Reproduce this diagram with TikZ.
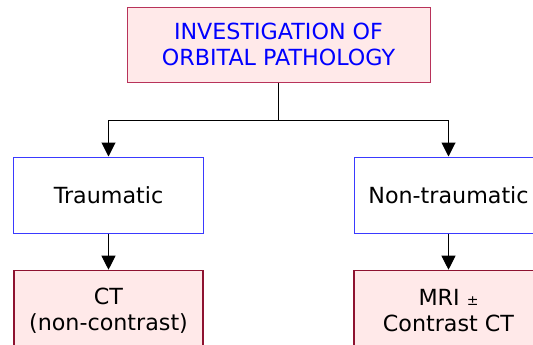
\documentclass[tikz,border=0pt]{standalone}
\usepackage{fontspec}
\setmainfont{DejaVu Sans}
\usetikzlibrary{arrows.meta,positioning}

\definecolor{boxpink}{HTML}{FFE9E9}
\definecolor{titlered}{HTML}{B8325A}
\definecolor{deepred}{HTML}{8E1230}
\definecolor{edgeblue}{HTML}{3A3AFF}

\begin{document}
\begin{tikzpicture}[x=1bp, y=-1bp, font=\fontsize{22.3}{26.5}\selectfont,
    headbox/.style={draw=titlered, fill=boxpink, line width=1bp, minimum width=303bp, minimum height=75bp, text=blue, align=center},
    casebox/.style={draw=edgeblue, fill=white, line width=1bp, minimum width=189bp, minimum height=76bp},
    scanbox/.style={draw=deepred, fill=boxpink, line width=1.6bp, minimum width=189bp, minimum height=80bp, align=center},
    flow/.style={draw=black, line width=1bp, -{Triangle[length=14bp,width=14bp]}}]
    \def\leftx{108.5}
    \def\rightx{448.5}

    \useasboundingbox (0,0) rectangle (533,344);
    \clip (0,0) rectangle (533,344);

    % Boxes
    \node[headbox] (title) at (278.5,44.5) {INVESTIGATION OF\\ORBITAL PATHOLOGY};
    \node[casebox] (trauma) at (\leftx,195) {Traumatic};
    \node[casebox] (nontrauma) at (\rightx,195) {Non-traumatic};
    \node[scanbox] (ct) at (\leftx,310.5) {CT\\(non-contrast)};
    \node[scanbox] (mri) at (\rightx,310.5) {MRI {\fontsize{14}{14}\selectfont ±}\\Contrast CT};

    % Connectors
    \coordinate (split) at (278.5,120);
    \draw[line width=1bp] (title.south) -- (split);
    \draw[flow] (split) -| (trauma.north);
    \draw[flow] (split) -| (nontrauma.north);
    \draw[flow] (trauma) -- (ct);
    \draw[flow] (nontrauma) -- (mri);
\end{tikzpicture}
\end{document}
